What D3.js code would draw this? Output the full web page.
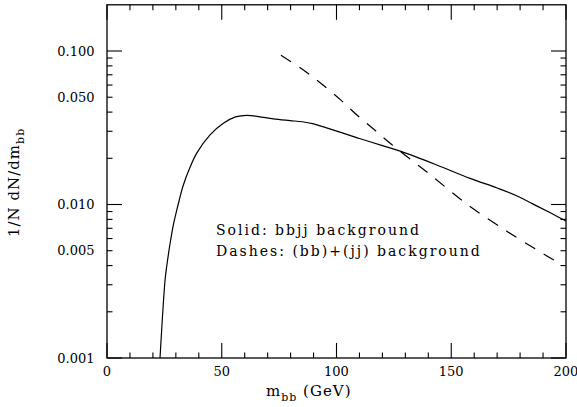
<!DOCTYPE html>
<html>
<head>
<meta charset="utf-8">
<script src="https://cdn.jsdelivr.net/npm/d3@7"></script>
<style>
  html, body { margin: 0; padding: 0; background: #fff; }
  svg { display: block; }
  text { font-family: "DejaVu Serif", "Liberation Serif", serif; fill: #000; }
</style>
</head>
<body>
<svg id="chart" width="577" height="407"></svg>
<script>
// Solid curve: bbjj background, invariant mass m_bb (GeV) vs 1/N dN/dm_bb
const solidMass = [23.1, 25.3, 26.0, 27.5, 28.9, 30.4, 31.5, 33.2, 36.0, 39.1, 44.9, 50.7, 56.0, 61.0,
                   66.0, 72.5, 79.7, 85.0, 90.0, 95.0, 101.5, 110.0, 120.0, 128.4, 143.7, 158.2, 170.0,
                   178.5, 187.2, 194.0, 200];
const solidValue = [0.001, 0.00322, 0.00393, 0.00559, 0.00735, 0.0092, 0.0107, 0.0133, 0.0172, 0.0216,
                    0.0284, 0.0338, 0.0372, 0.0381, 0.0374, 0.0361, 0.0352, 0.0346, 0.0335, 0.0318,
                    0.0296, 0.0269, 0.0242, 0.0221, 0.0181, 0.0148, 0.0128, 0.0114, 0.0098, 0.0087, 0.0078];

// Dashed curve: (bb)+(jj) background
const dashMass = [75.8, 86.3, 94.1, 101.7, 108.9, 116.5, 124.2, 140.0, 157.4, 174.2, 186.0, 193.0, 198.8];
const dashValue = [0.094, 0.0738, 0.060, 0.0482, 0.0383, 0.0307, 0.0245, 0.0160, 0.0099, 0.0067,
                   0.0052, 0.0045, 0.0040];

// Axis ticks
const xMajorTicks = [0, 50, 100, 150, 200];
const xMinorTicks = [10, 20, 30, 40, 60, 70, 80, 90, 110, 120, 130, 140, 160, 170, 180, 190];
const yMajorTicks = [0.001, 0.01, 0.1];
const yMinorTicks = [0.002, 0.003, 0.004, 0.005, 0.006, 0.007, 0.008, 0.009,
                     0.02, 0.03, 0.04, 0.05, 0.06, 0.07, 0.08, 0.09];
const yTickLabels = [0.001, 0.005, 0.01, 0.05, 0.1];
const legendLines = ["Solid: bbjj background", "Dashes: (bb)+(jj) background"];

const svg = d3.select("#chart");
const plot = { left: 107, right: 566, top: 4.8, bottom: 358 };

const x = d3.scaleLinear().domain([0, 200]).range([plot.left, plot.right]);
const y = d3.scaleLog().domain([0.001, 0.2]).range([plot.bottom, plot.top]);

const majorLen = 15, minorLen = 5.5;
const ticks = svg.append("g").attr("stroke", "#000").attr("stroke-width", 1.1);

// x ticks on bottom and top edges, pointing inward
function xTick(v, len) {
  ticks.append("line").attr("x1", x(v)).attr("x2", x(v))
    .attr("y1", plot.bottom).attr("y2", plot.bottom - len);
  ticks.append("line").attr("x1", x(v)).attr("x2", x(v))
    .attr("y1", plot.top).attr("y2", plot.top + len);
}
xMajorTicks.forEach(v => xTick(v, majorLen));
xMinorTicks.forEach(v => xTick(v, minorLen));

// y ticks on left and right edges, pointing inward
function yTick(v, len) {
  ticks.append("line").attr("y1", y(v)).attr("y2", y(v))
    .attr("x1", plot.left).attr("x2", plot.left + len);
  ticks.append("line").attr("y1", y(v)).attr("y2", y(v))
    .attr("x1", plot.right).attr("x2", plot.right - len);
}
yMajorTicks.forEach(v => yTick(v, majorLen));
yMinorTicks.forEach(v => yTick(v, minorLen));

// frame
svg.append("rect")
  .attr("x", plot.left).attr("y", plot.top)
  .attr("width", plot.right - plot.left).attr("height", plot.bottom - plot.top)
  .attr("fill", "none").attr("stroke", "#000").attr("stroke-width", 1.3);

// tick labels
svg.append("g").selectAll("text").data(xMajorTicks).join("text")
  .attr("x", d => x(d)).attr("y", 376)
  .attr("text-anchor", "middle").attr("font-size", 13)
  .text(d => d3.format("d")(d));

svg.append("g").selectAll("text").data(yTickLabels).join("text")
  .attr("x", plot.left - 12.5).attr("y", d => y(d) + 4.7)
  .attr("text-anchor", "end").attr("font-size", 13)
  .text(d => d3.format(".3f")(d));

// axis titles
const xTitle = svg.append("text").attr("x", 266).attr("y", 396)
  .attr("font-size", 15).attr("letter-spacing", 1);
xTitle.append("tspan").text("m");
xTitle.append("tspan").attr("font-size", 11).attr("dy", 5).text("bb");
xTitle.append("tspan").attr("dy", -5).text("\u00a0(GeV)");

const yTitle = svg.append("text").attr("transform", "translate(19,237) rotate(-90)")
  .attr("font-size", 15).attr("letter-spacing", 1);
yTitle.append("tspan").text("1/N dN/dm");
yTitle.append("tspan").attr("font-size", 11).attr("dy", 5).text("bb");

// curves
const line = d3.line()
  .x(d => x(d[0])).y(d => y(d[1]))
  .curve(d3.curveCatmullRom.alpha(0.5));

svg.append("path")
  .datum(d3.zip(solidMass, solidValue))
  .attr("d", line)
  .attr("fill", "none").attr("stroke", "#000").attr("stroke-width", 1.2);

svg.append("path")
  .datum(d3.zip(dashMass, dashValue))
  .attr("d", line)
  .attr("fill", "none").attr("stroke", "#000").attr("stroke-width", 1.2)
  .attr("stroke-dasharray", "12,10");

// legend text
svg.append("g").selectAll("text").data(legendLines).join("text")
  .attr("x", 216).attr("y", (d, i) => 235 + i * 21)
  .attr("font-size", 14).attr("letter-spacing", 2)
  .text(d => d);
</script>
</body>
</html>
